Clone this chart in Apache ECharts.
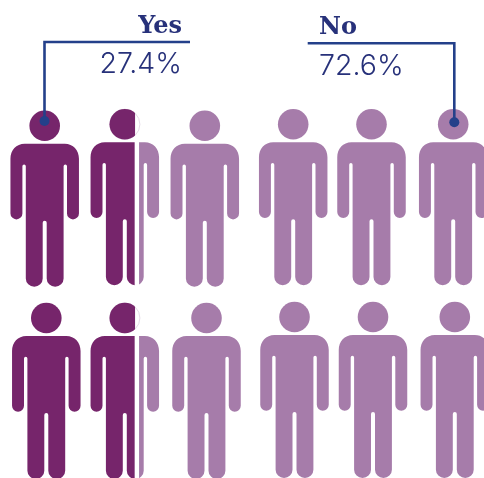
<!DOCTYPE html>
<html>
<head>
<meta charset="utf-8">
<style>html,body{margin:0;padding:0;background:#fff}#chart{width:484px;height:478px}</style>
<script src="https://cdn.jsdelivr.net/npm/echarts@6/dist/echarts.min.js"></script>
</head>
<body>
<div id="chart"></div>
<script>
// Values
const categories = ['Yes', 'No'];
const shares = [27.4, 72.6];
const shareLabels = ['27.4%', '72.6%'];
const figuresPerRow = 6;

// Layout (in axis units)
const rowA = { x: [44.7, 124.8, 204.8, 293.2, 371.5, 453.2], top: [143.7, 142.3, 143.7, 142.3, 142.3, 142.3] };
const rowB = { x: [46.3, 124.8, 206.5, 294.5, 373, 454.8], top: [336, 336, 336, 335, 335, 335] };
const leaderYes = [[190, 42], [44.5, 42], [44.5, 121]];
const leaderNo = [[307.7, 43.3], [454.3, 43.3], [454.3, 122.3]];

const DARK = '#76256b', LIGHT = '#a67caa', INK = '#27317a', LEAD = '#24408a';
const W = 68.5, HEAD_R = 15.3, HEAD_DY = 18, H = 143, GAP = 4.4;

const bodyPath = 'M-20,0 H20 C28.5,0 34.25,6.5 34.25,15 V69.7 A5.975,5.975 0 0 1 22.3,69.7 V22.5 A1.7,1.7 0 0 0 18.9,22.5 '
  + 'V134.7 A8.45,8.3 0 0 1 2,134.7 V79 A2,2 0 0 0 -2,79 V134.7 A8.45,8.3 0 0 1 -18.9,134.7 '
  + 'V22.5 A1.7,1.7 0 0 0 -22.3,22.5 V69.7 A5.975,5.975 0 0 1 -34.25,69.7 V15 C-34.25,6.5 -28.5,0 -20,0 Z';

const fillOf = col => Math.max(0, Math.min(1, shares[0] / 100 * figuresPerRow - col));
const figures = [];
[rowA, rowB].forEach(r => r.x.forEach((x, i) => figures.push([x, r.top[i], fillOf(i)])));

function renderFigure(params, api) {
  const p = api.coord([api.value(0), api.value(1)]);
  const f = api.value(2);
  const cx = p[0], top = p[1];
  const left = cx - W / 2;
  const rect = { x: left, y: top, width: W, height: H };
  const head = color => ({ type: 'circle', shape: { cx: cx, cy: top - HEAD_DY, r: HEAD_R }, style: { fill: color } });
  const body = color => ({ type: 'path', shape: { pathData: bodyPath, x: rect.x, y: rect.y, width: rect.width, height: rect.height, layout: 'cover' }, style: { fill: color } });
  if (f >= 1) return { type: 'group', children: [head(DARK), body(DARK)] };
  if (f <= 0) return { type: 'group', children: [head(LIGHT), body(LIGHT)] };
  const split = left + W * f;
  const clipL = { type: 'rect', shape: { x: left - 2, y: top - 40, width: split - left + 2, height: H + 50 } };
  const clipR = { type: 'rect', shape: { x: split + GAP, y: top - 40, width: W, height: H + 50 } };
  const ring = { type: 'circle', shape: { cx: cx, cy: top - HEAD_DY, r: HEAD_R - 0.2 }, style: { fill: 'none', stroke: '#e6dae8', lineWidth: 1 } };
  return { type: 'group', children: [
    ring,
    Object.assign(head(DARK), { clipPath: { type: 'rect', shape: { x: left - 2, y: top - 40, width: split - left + 2.4, height: H + 50 } } }),
    Object.assign(body(DARK), { clipPath: clipL }),
    Object.assign(body(LIGHT), { clipPath: clipR })
  ] };
}

function renderLeader(params, api) {
  const pts = [0, 1, 2].map(i => api.coord([api.value(i * 2), api.value(i * 2 + 1)]));
  return { type: 'group', children: [
    { type: 'polyline', shape: { points: pts }, style: { fill: 'none', stroke: LEAD, lineWidth: 2.6, lineJoin: 'miter' } },
    { type: 'circle', shape: { cx: pts[2][0], cy: pts[2][1], r: 5 }, style: { fill: LEAD } }
  ] };
}

const chart = echarts.init(document.getElementById('chart'), null, { renderer: 'canvas' });
chart.setOption({
  animation: false,
  backgroundColor: '#fff',
  grid: { left: 0, right: 0, top: 0, bottom: 0 },
  xAxis: { type: 'value', min: 0, max: 484, show: false },
  yAxis: { type: 'value', min: 0, max: 478, inverse: true, show: false },
  series: [
    { type: 'custom', name: 'figures', coordinateSystem: 'cartesian2d', clip: false, silent: true,
      renderItem: renderFigure, data: figures, encode: { x: 0, y: 1 } },
    { type: 'custom', name: 'leaders', coordinateSystem: 'cartesian2d', clip: false, silent: true, z: 5,
      renderItem: renderLeader, data: [leaderYes.flat(), leaderNo.flat()], encode: { x: [0, 2, 4], y: [1, 3, 5] } }
  ],
  graphic: [
    { type: 'text', x: 182, y: 15, style: { text: categories[0], fill: INK, font: 'bold 24px "DejaVu Serif"', textAlign: 'right', textVerticalAlign: 'top' } },
    { type: 'text', x: 182, y: 50, style: { text: shareLabels[0], fill: INK, font: '300 28.5px Inter', textAlign: 'right', textVerticalAlign: 'top' } },
    { type: 'text', x: 319, y: 15.5, style: { text: categories[1], fill: INK, font: 'bold 24px "DejaVu Serif"', textAlign: 'left', textVerticalAlign: 'top' } },
    { type: 'text', x: 319, y: 51.5, style: { text: shareLabels[1], fill: INK, font: '300 28.5px Inter', textAlign: 'left', textVerticalAlign: 'top' } }
  ]
});
</script>
</body>
</html>
